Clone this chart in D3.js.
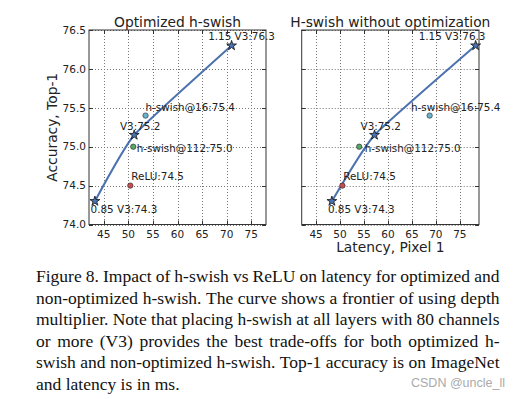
<!DOCTYPE html>
<html>
<head>
<meta charset="utf-8">
<script src="https://cdn.jsdelivr.net/npm/d3@7"></script>
<style>
body { margin: 0; background: #fff; }
svg { display: block; }
</style>
</head>
<body>
<svg id="fig"></svg>
<script>
var width = 531;
var height = 399;

// frontier of depth multipliers (stars + line)
var frontierLabels = ["0.85 V3:74.3", "V3:75.2", "1.15 V3:76.3"];
var frontierAcc = [74.3, 75.15, 76.3];
var frontierLatOpt = [43.2, 51.2, 71.0];
var frontierLatNoOpt = [48.3, 57.2, 78.3];

// single variants (dots)
var variantLabels = ["h-swish@16:75.4", "h-swish@112:75.0", "ReLU:74.5"];
var variantAcc = [75.4, 75.0, 74.5];
var variantLatOpt = [53.5, 51.0, 50.4];
var variantLatNoOpt = [68.7, 54.0, 50.5];
var variantColors = ["#64b5cd", "#55a868", "#c44e52"];

var xTicks = [45, 50, 55, 60, 65, 70, 75];
var yTicks = [74.0, 74.5, 75.0, 75.5, 76.0, 76.5];

var captionLines = [
    "Figure 8. Impact of h-swish vs ReLU on latency for optimized and",
    "non-optimized h-swish. The curve shows a frontier of using depth",
    "multiplier. Note that placing h-swish at all layers with 80 channels",
    "or more (V3) provides the best trade-offs for both optimized h-",
    "swish and non-optimized h-swish. Top-1 accuracy is on ImageNet",
    "and latency is in ms."
];

var sans = "'DejaVu Sans', sans-serif";
var plotTop = 30, plotBottom = 224.5;

var svg = d3.select("#fig").attr("width", width).attr("height", height);
svg.append("rect").attr("width", width).attr("height", height).attr("fill", "#fff");

var panels = [
    {
        left: 89, right: 266, domain: [42, 78],
        title: "Optimized h-swish",
        frontierLat: frontierLatOpt, variantLat: variantLatOpt,
        yLabels: true, xLabel: null,
        // label offsets in px from the marker
        frontierOff: [[-4.3, 11.5], [-14.3, -5], [-23.4, -6]],
        variantOff: [[0, -5], [3.4, 5.3], [1, -6]]
    },
    {
        left: 301.7, right: 479, domain: [42, 79],
        title: "H-swish without optimization",
        frontierLat: frontierLatNoOpt, variantLat: variantLatNoOpt,
        yLabels: false, xLabel: "Latency, Pixel 1",
        frontierOff: [[-4, 11.5], [-14, -5], [-57, -6]],
        variantOff: [[-18.7, -5], [5.5, 5.3], [0.7, -6]]
    }
];

function drawPanel(p) {
    var x = d3.scaleLinear().domain(p.domain).range([p.left, p.right]);
    var y = d3.scaleLinear().domain([74.0, 76.5]).range([plotBottom, plotTop]);
    var g = svg.append("g");

    // dotted grid
    g.append("g").selectAll("line").data(xTicks).enter().append("line")
        .attr("x1", function (d) { return Math.round(x(d)) + 0.5; })
        .attr("x2", function (d) { return Math.round(x(d)) + 0.5; })
        .attr("y1", plotTop).attr("y2", plotBottom)
        .attr("stroke", "#777").attr("stroke-width", 1).attr("stroke-dasharray", "1,2");
    g.append("g").selectAll("line").data(yTicks).enter().append("line")
        .attr("y1", function (d) { return Math.round(y(d)) + 0.5; })
        .attr("y2", function (d) { return Math.round(y(d)) + 0.5; })
        .attr("x1", p.left).attr("x2", p.right)
        .attr("stroke", "#777").attr("stroke-width", 1).attr("stroke-dasharray", "1,2");

    // frontier line
    var pts = frontierAcc.map(function (a, i) { return [p.frontierLat[i], a]; });
    g.append("path")
        .datum(pts)
        .attr("fill", "none")
        .attr("stroke", "#4c72b0")
        .attr("stroke-width", 2)
        .attr("d", d3.line()
            .x(function (d) { return x(d[0]); })
            .y(function (d) { return y(d[1]); })
            .curve(d3.curveCardinal.tension(0.6)));

    // variant dots
    g.append("g").selectAll("circle").data(variantAcc).enter().append("circle")
        .attr("cx", function (d, i) { return x(p.variantLat[i]); })
        .attr("cy", function (d) { return y(d); })
        .attr("r", 2.7)
        .attr("fill", function (d, i) { return variantColors[i]; })
        .attr("stroke", "#222").attr("stroke-width", 0.6);

    // stars
    g.append("g").selectAll("path").data(pts).enter().append("path")
        .attr("d", d3.symbol(d3.symbolStar, 30))
        .attr("transform", function (d) { return "translate(" + x(d[0]) + "," + y(d[1]) + ")"; })
        .attr("fill", "#4c72b0").attr("stroke", "#111").attr("stroke-width", 0.8);

    // spines
    g.append("rect")
        .attr("x", p.left).attr("y", plotTop)
        .attr("width", p.right - p.left).attr("height", plotBottom - plotTop)
        .attr("fill", "none").attr("stroke", "#333").attr("stroke-width", 1);

    // inward ticks on all sides
    var tk = g.append("g").attr("stroke", "#333").attr("stroke-width", 1);
    xTicks.forEach(function (t) {
        var xx = Math.round(x(t)) + 0.5;
        tk.append("line").attr("x1", xx).attr("x2", xx).attr("y1", plotBottom).attr("y2", plotBottom - 4);
        tk.append("line").attr("x1", xx).attr("x2", xx).attr("y1", plotTop).attr("y2", plotTop + 4);
    });
    yTicks.forEach(function (t) {
        var yy = Math.round(y(t)) + 0.5;
        tk.append("line").attr("y1", yy).attr("y2", yy).attr("x1", p.left).attr("x2", p.left + 4);
        tk.append("line").attr("y1", yy).attr("y2", yy).attr("x1", p.right).attr("x2", p.right - 4);
    });

    // tick labels
    g.append("g").selectAll("text").data(xTicks).enter().append("text")
        .attr("x", function (d) { return x(d); })
        .attr("y", plotBottom + 13)
        .attr("text-anchor", "middle")
        .style("font", "10.5px " + sans).style("fill", "#222")
        .text(function (d) { return d; });
    if (p.yLabels) {
        g.append("g").selectAll("text").data(yTicks).enter().append("text")
            .attr("x", p.left - 3)
            .attr("y", function (d) { return y(d); })
            .attr("dy", "0.36em")
            .attr("text-anchor", "end")
            .style("font", "10.5px " + sans).style("fill", "#222")
            .text(function (d) { return d.toFixed(1); });
        svg.append("text")
            .attr("transform", "translate(56.7," + (plotTop + plotBottom) / 2 + ") rotate(-90)")
            .attr("text-anchor", "middle")
            .style("font", "13.8px " + sans).style("fill", "#222")
            .text("Accuracy, Top-1");
    }
    if (p.xLabel) {
        g.append("text")
            .attr("x", (p.left + p.right) / 2).attr("y", 251.5)
            .attr("text-anchor", "middle")
            .style("font", "13.8px " + sans).style("fill", "#222")
            .text(p.xLabel);
    }

    // title
    g.append("text")
        .attr("x", (p.left + p.right) / 2).attr("y", 26.7)
        .attr("text-anchor", "middle")
        .style("font", "13.8px " + sans).style("fill", "#222")
        .text(p.title);

    // point annotations
    g.append("g").selectAll("text").data(pts).enter().append("text")
        .attr("x", function (d, i) { return x(d[0]) + p.frontierOff[i][0]; })
        .attr("y", function (d, i) { return y(d[1]) + p.frontierOff[i][1]; })
        .style("font", "10.4px " + sans).style("fill", "#222")
        .text(function (d, i) { return frontierLabels[i]; });
    g.append("g").selectAll("text").data(variantAcc).enter().append("text")
        .attr("x", function (d, i) { return x(p.variantLat[i]) + p.variantOff[i][0]; })
        .attr("y", function (d, i) { return y(d) + p.variantOff[i][1]; })
        .style("font", "10.4px " + sans).style("fill", "#222")
        .text(function (d, i) { return variantLabels[i]; });
}

panels.forEach(drawPanel);

// justified caption
var capLeft = 36, capRight = 499.5;
var cap = svg.append("g")
    .style("font", "17.5px 'Liberation Serif', 'Times New Roman', serif")
    .style("fill", "#111");
captionLines.forEach(function (line, i) {
    var yy = 282.3 + i * 21.5;
    var words = line.split(" ");
    var nodes = words.map(function (w) {
        return cap.append("text").attr("y", yy).text(w);
    });
    var widths = nodes.map(function (n) { return n.node().getComputedTextLength(); });
    var total = d3.sum(widths);
    var last = i === captionLines.length - 1;
    var gap = last ? 4.4 : (capRight - capLeft - total) / (words.length - 1);
    var xx = capLeft;
    nodes.forEach(function (n, j) {
        n.attr("x", xx);
        xx += widths[j] + gap;
    });
});

// watermark
svg.append("text")
    .attr("x", 411).attr("y", 387)
    .style("font", "12.5px 'Liberation Sans', Arial, sans-serif")
    .style("fill", "#aaa")
    .text("CSDN @uncle_ll");
</script>
</body>
</html>
